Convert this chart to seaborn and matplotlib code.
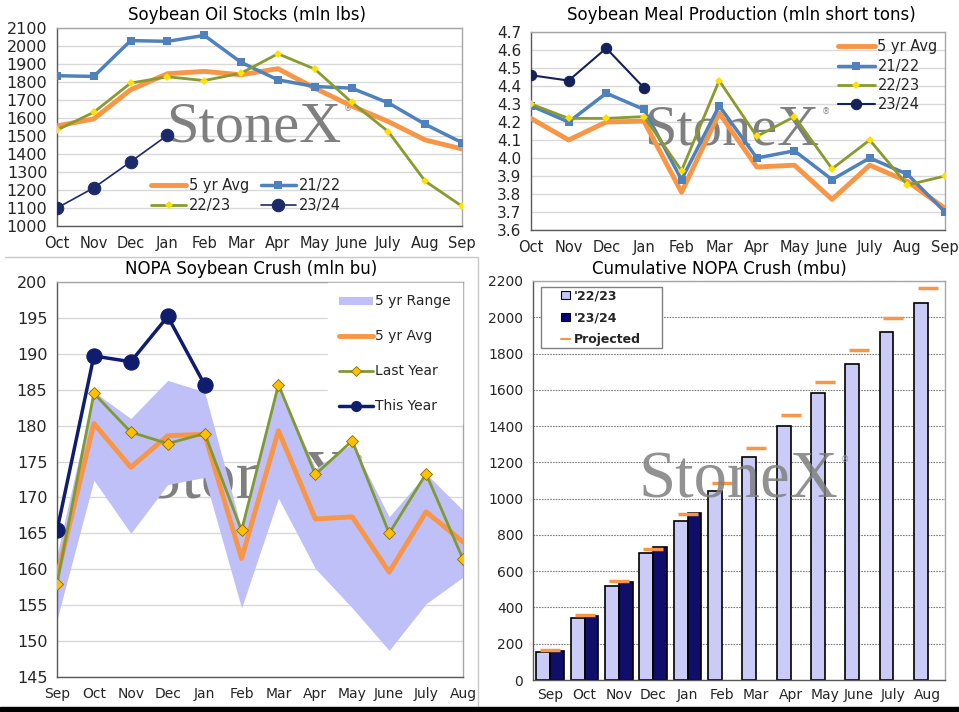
import numpy as np
import pandas as pd
import matplotlib.pyplot as plt
import seaborn as sns
from matplotlib.patches import Patch, Rectangle
from matplotlib.lines import Line2D

# month labels
months_oct = ['Oct', 'Nov', 'Dec', 'Jan', 'Feb', 'Mar', 'Apr', 'May', 'June', 'July', 'Aug', 'Sep']
months_sep = ['Sep', 'Oct', 'Nov', 'Dec', 'Jan', 'Feb', 'Mar', 'Apr', 'May', 'June', 'July', 'Aug']

# Soybean oil stocks (mln lbs)
oil_avg = [1556, 1595, 1757, 1846, 1859, 1840, 1874, 1766, 1667, 1580, 1478, 1428]
oil_2122 = [1835, 1831, 2030, 2026, 2059, 1909, 1812, 1775, 1766, 1684, 1565, 1463]
oil_2223 = [1533, 1632, 1794, 1829, 1808, 1849, 1957, 1872, 1688, 1524, 1249, 1110]
oil_2324 = [1100, 1212, 1357, 1504]

# Soybean meal production (mln short tons)
meal_avg = [4.22, 4.10, 4.20, 4.205, 3.81, 4.25, 3.95, 3.96, 3.77, 3.96, 3.87, 3.72]
meal_2122 = [4.29, 4.20, 4.36, 4.27, 3.88, 4.29, 4.00, 4.04, 3.88, 4.00, 3.91, 3.70]
meal_2223 = [4.30, 4.22, 4.22, 4.23, 3.93, 4.43, 4.12, 4.23, 3.94, 4.10, 3.85, 3.90]
meal_2324 = [4.46, 4.43, 4.61, 4.39]

# NOPA crush (mln bu)
crush_low = [153.0, 172.4, 165.0, 171.8, 172.8, 154.6, 169.9, 160.1, 154.6, 148.7, 155.2, 158.9]
crush_high = [162.0, 184.7, 181.0, 186.3, 184.7, 165.6, 185.8, 174.0, 177.5, 167.3, 173.3, 168.2]
crush_avg = [159.0, 180.3, 174.2, 178.6, 178.8, 161.5, 179.3, 167.0, 167.3, 159.6, 168.0, 163.8]
crush_last = [158.0, 184.5, 179.1, 177.5, 178.9, 165.4, 185.7, 173.2, 177.9, 165.0, 173.3, 161.4]
crush_this = [165.4, 189.7, 188.9, 195.2, 185.7]

# cumulative NOPA crush (mbu)
cum_2223 = [156, 340, 520, 698, 876, 1041, 1229, 1403, 1581, 1745, 1919, 2081]
cum_2324 = [162, 354, 538, 735, 922]
cum_proj = [163, 356, 544, 725, 916, 1085, 1280, 1460, 1644, 1818, 1996, 2163]

ORANGE = '#F79646'
BLUE = '#4F81BD'
OLIVE = '#8A9A2E'
YELLOW = '#FFE100'
NAVY = '#1C2A6A'
LAV_FILL = '#BFC0F8'
LAV_BAR = '#C4C4FF'
NAVY_BAR = '#00007A'
WM = '#7F7F7F'

sns.set_theme(style='white')
plt.rcParams['font.family'] = ['DejaVu Sans']

W, H = 959, 712
fig = plt.figure(figsize=(W / 100, H / 100), dpi=100)
fig.patch.set_facecolor('white')


def add_ax(l, t, r, b):
    return fig.add_axes([l / W, 1 - b / H, (r - l) / W, (b - t) / H])


def style_axes(ax, grid_color='#D9D9D9', grid_ls='-'):
    ax.set_facecolor('white')
    for s in ['top', 'right']:
        ax.spines[s].set_color('#A6A6A6')
    for s in ['left', 'bottom']:
        ax.spines[s].set_color('#595959')
    for s in ax.spines.values():
        s.set_linewidth(1)
    ax.yaxis.grid(True, color=grid_color, ls=grid_ls, lw=1)
    ax.xaxis.grid(False)
    ax.set_axisbelow(True)
    ax.tick_params(length=4, color='#595959', direction='out', pad=3)
    ax.set_xlabel('')
    ax.set_ylabel('')


def watermark(ax, x, y, size, z=1, alpha=1.0):
    txt = ax.text(x, y, 'StoneX', transform=ax.transAxes, ha='center', va='center',
                  family='Liberation Serif', fontsize=size, color=WM, alpha=alpha, zorder=z)
    ax.annotate('\u00ae', xy=(1.0, 0.85), xycoords=txt, xytext=(2, 0), textcoords='offset points',
                ha='left', va='center', fontsize=6, color=WM, zorder=z)


x12 = np.arange(12)

# ---- top left: soybean oil stocks
ax1 = add_ax(57, 28, 462, 226)
sns.lineplot(x=x12, y=oil_avg, ax=ax1, color=ORANGE, lw=3.5, label='5 yr Avg', zorder=3)
sns.lineplot(x=x12, y=oil_2122, ax=ax1, color=BLUE, lw=2.5, marker='s', markersize=6,
             markeredgecolor=BLUE, markeredgewidth=0, label='21/22', zorder=3)
sns.lineplot(x=x12, y=oil_2223, ax=ax1, color=OLIVE, lw=2, marker='D', markersize=4.5,
             markerfacecolor=YELLOW, markeredgecolor=YELLOW, markeredgewidth=0, label='22/23', zorder=3)
sns.lineplot(x=x12[:len(oil_2324)], y=oil_2324, ax=ax1, color=NAVY, lw=1.2, marker='o', markersize=9,
             markeredgecolor=NAVY, label='23/24', zorder=4)
style_axes(ax1)
ax1.set_xlim(0, 11)
ax1.set_ylim(1000, 2100)
ax1.set_yticks(np.arange(1000, 2101, 100))
ax1.set_xticks(x12)
ax1.set_xticklabels(months_oct, fontsize=10.5)
ax1.tick_params(axis='y', labelsize=11.5)
hd, lb = ax1.get_legend_handles_labels()
order = [0, 2, 1, 3]
ax1.legend([hd[i] for i in order], [lb[i] for i in order], ncol=2, loc='lower left',
           bbox_to_anchor=(0.2, 0.0), frameon=False, fontsize=10.5, handlelength=2.4,
           columnspacing=0.8, handletextpad=0.2, labelspacing=0.35)
watermark(ax1, 0.485, 0.5, 42)

# ---- top right: soybean meal production
ax2 = add_ax(531, 32, 945, 230)
sns.lineplot(x=x12, y=meal_avg, ax=ax2, color=ORANGE, lw=3.5, label='5 yr Avg', zorder=3)
sns.lineplot(x=x12, y=meal_2122, ax=ax2, color=BLUE, lw=2.5, marker='s', markersize=6,
             markeredgecolor=BLUE, markeredgewidth=0, label='21/22', zorder=3)
sns.lineplot(x=x12, y=meal_2223, ax=ax2, color=OLIVE, lw=2, marker='D', markersize=4.5,
             markerfacecolor=YELLOW, markeredgecolor=YELLOW, markeredgewidth=0, label='22/23', zorder=3)
sns.lineplot(x=x12[:len(meal_2324)], y=meal_2324, ax=ax2, color='#14215A', lw=1.5, marker='o',
             markersize=7.5, markeredgecolor='#14215A', label='23/24', zorder=4)
style_axes(ax2)
ax2.set_xlim(0, 11)
ax2.set_ylim(3.6, 4.7)
ax2.set_yticks(np.round(np.arange(3.6, 4.71, 0.1), 1))
ax2.yaxis.set_major_formatter(plt.FormatStrFormatter('%.1f'))
ax2.set_xticks(x12)
ax2.set_xticklabels(months_oct, fontsize=10.5)
ax2.tick_params(axis='y', labelsize=11)
ax2.legend(loc='upper right', frameon=False, fontsize=10.5, handlelength=2.5, handletextpad=0.2,
           labelspacing=0.3, borderaxespad=0.2, borderpad=0.3)
watermark(ax2, 0.485, 0.505, 42)

# ---- bottom left: NOPA soybean crush
ax3 = add_ax(57, 282, 463, 677)
watermark(ax3, 0.47, 0.494, 50, z=1)
ax3.fill_between(x12, crush_low, crush_high, color=LAV_FILL, lw=0, zorder=2)
sns.lineplot(x=x12, y=crush_avg, ax=ax3, color=ORANGE, lw=3.5, zorder=3)
sns.lineplot(x=x12, y=crush_last, ax=ax3, color='#7F9A32', lw=2, marker='D', markersize=6,
             markerfacecolor='#FFC000', markeredgecolor='#8B6A00', markeredgewidth=0.6, zorder=4)
sns.lineplot(x=x12[:len(crush_this)], y=crush_this, ax=ax3, color='#101C6E', lw=2.5, marker='o',
             markersize=11, markeredgecolor='#101C6E', zorder=5)
style_axes(ax3)
ax3.set_xlim(0, 11)
ax3.set_ylim(145, 200)
ax3.set_yticks(np.arange(145, 201, 5))
ax3.set_xticks(x12)
ax3.set_xticklabels(months_sep, fontsize=10)
ax3.tick_params(axis='y', labelsize=11.5)
bl_handles = [
    Patch(facecolor=LAV_FILL, edgecolor='none'),
    Line2D([], [], color=ORANGE, lw=3.5),
    Line2D([], [], color='#7F9A32', lw=2, marker='D', ms=5, mfc='#FFC000', mec='#8B6A00', mew=0.6),
    Line2D([], [], color='#101C6E', lw=2.5, marker='o', ms=7),
]
leg3 = ax3.legend(bl_handles, ['5 yr Range', '5 yr Avg', 'Last Year', 'This Year'], loc='upper right',
                  frameon=True, fancybox=False, facecolor='white', edgecolor='white', framealpha=1,
                  fontsize=10, labelspacing=1.5, handlelength=2.4, handleheight=0.5,
                  handletextpad=0.15, borderaxespad=0.1, borderpad=0.8)
leg3.set_zorder(6)

# ---- bottom right: cumulative NOPA crush
ax4 = add_ax(533, 281, 945, 680)
cum_df = pd.DataFrame({
    'month': months_sep + months_sep[:len(cum_2324)],
    'value': cum_2223 + cum_2324,
    'season': ["'22/23"] * len(cum_2223) + ["'23/24"] * len(cum_2324),
})
sns.barplot(data=cum_df, x='month', y='value', hue='season', order=months_sep,
            hue_order=["'22/23", "'23/24"], palette=[LAV_BAR, NAVY_BAR], width=0.8,
            edgecolor='black', linewidth=1.2, errorbar=None, legend=False, ax=ax4, zorder=2)
ax4.plot(x12, cum_proj, ls='none', marker='_', ms=15, mew=2.5, color=ORANGE, zorder=3)
style_axes(ax4)
ax4.yaxis.grid(True, color='#7F7F7F', ls=(0, (1.5, 1)), lw=0.8)
ax4.set_xlim(-0.5, 11.5)
ax4.set_ylim(0, 2200)
ax4.set_yticks(np.arange(0, 2201, 200))
ax4.set_xticks(x12)
ax4.set_xticklabels(months_sep, fontsize=10)
ax4.set_xticks(np.arange(-0.5, 12, 1), minor=True)
ax4.tick_params(axis='x', which='major', length=0, pad=6)
ax4.tick_params(axis='x', which='minor', length=5, color='#595959')
ax4.tick_params(axis='y', labelsize=10)
watermark(ax4, 0.498, 0.50, 48, z=4, alpha=0.85)

# legend box drawn at its own place, entries inside it
ax4.add_patch(Rectangle((0.0194, 0.832), 0.2937, 0.153, transform=ax4.transAxes,
                        facecolor='white', edgecolor='#808080', lw=1, zorder=5))
br_handles = [
    Patch(facecolor=LAV_BAR, edgecolor='black', lw=0.8),
    Patch(facecolor=NAVY_BAR, edgecolor='black', lw=0.8),
    Line2D([], [], color=ORANGE, lw=1.5),
]
leg4 = ax4.legend(br_handles, ["'22/23", "'23/24", 'Projected'], loc='upper left',
                  bbox_to_anchor=(0.068, 0.978), borderaxespad=0, borderpad=0, frameon=False,
                  prop={'weight': 'bold', 'size': 9}, handlelength=0.7, handleheight=0.6,
                  handletextpad=0.35, labelspacing=0.68)
leg4.set_zorder(6)

# panel titles
title_kw = dict(ha='center', va='center', fontsize=12, color='black')
fig.text(247 / W, 1 - 15 / H, 'Soybean Oil Stocks (mln lbs)', **title_kw)
fig.text(741 / W, 1 - 15 / H, 'Soybean Meal Production (mln short tons)', **title_kw)
fig.text(251 / W, 1 - 269 / H, 'NOPA Soybean Crush (mln bu)', **title_kw)
fig.text(719 / W, 1 - 269 / H, 'Cumulative NOPA Crush (mbu)', **title_kw)

# panel separators and bottom band
fig.add_artist(Line2D([5 / W, 478 / W], [1 - 257 / H, 1 - 257 / H], color='#C8C8C8', lw=1))
fig.add_artist(Line2D([478 / W, 478 / W], [1 - 257 / H, 1 - 706 / H], color='#C8C8C8', lw=1))
fig.patches.append(Rectangle((0, 0), 1, 5 / H, transform=fig.transFigure, color='black', zorder=10))

fig.savefig('out.png', dpi=100, facecolor='white')
